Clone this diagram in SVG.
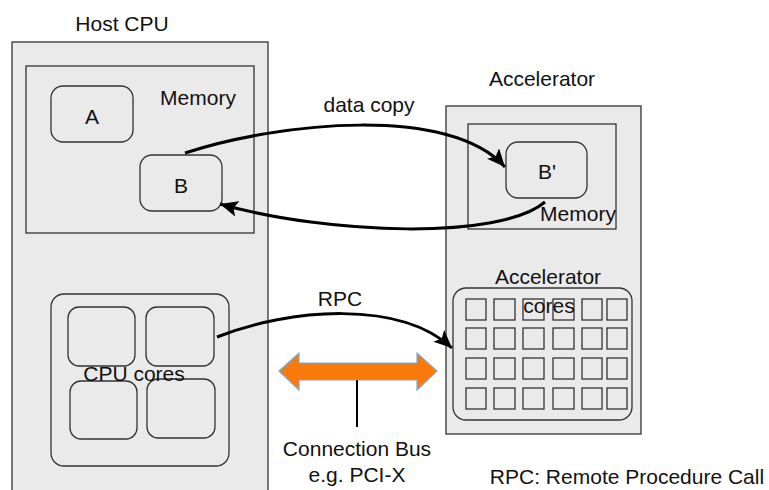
<svg xmlns="http://www.w3.org/2000/svg" width="769" height="490" viewBox="0 0 769 490">
<style>
text{font-family:"Liberation Sans",Arial,sans-serif;font-size:21px;fill:#111;}
.box{fill:#eaeaea;stroke:#333;stroke-width:1.3;}
.rbox{fill:#eaeaea;stroke:#333;stroke-width:1.3;}
.sq{fill:none;stroke:#333;stroke-width:1.3;}
.conn{fill:none;stroke:#000;stroke-width:3;}
</style>
<defs>
<marker id="ah" markerUnits="userSpaceOnUse" markerWidth="20" markerHeight="16" refX="18" refY="8" orient="auto">
<path d="M0,0 L18,8 L0,16 L4,8 Z" fill="#000"/>
</marker>
</defs>
<g id="host-cpu">
<rect class="box" x="12" y="42" width="256" height="460"/>
<text x="122" y="31" text-anchor="middle" font-size="20">Host CPU</text>
</g>
<g id="host-memory">
<rect class="box" x="26" y="66" width="228" height="167"/>
<text x="198" y="105" text-anchor="middle" font-size="21">Memory</text>
</g>
<g id="node-a">
<rect class="rbox" x="51" y="86" width="82" height="56" rx="12"/>
<text x="92" y="124" text-anchor="middle">A</text>
</g>
<g id="node-b">
<rect class="rbox" x="140" y="155" width="82" height="56" rx="12"/>
<text x="181" y="193" text-anchor="middle">B</text>
</g>
<g id="cpu-cores">
<rect class="rbox" x="51" y="294" width="178" height="172" rx="13"/>
<rect class="rbox" x="68" y="307" width="67" height="59" rx="11"/>
<rect class="rbox" x="146" y="307" width="68" height="59" rx="11"/>
<rect class="rbox" x="70" y="381" width="67" height="58" rx="11"/>
<rect class="rbox" x="147" y="379" width="68" height="59" rx="11"/>
<text x="134" y="381" text-anchor="middle" font-size="20">CPU cores</text>
</g>
<g id="accelerator">
<rect class="box" x="446" y="106" width="195" height="328"/>
<text x="542" y="86" text-anchor="middle" font-size="21">Accelerator</text>
</g>
<g id="acc-memory">
<rect class="box" x="468" y="124" width="148" height="105"/>
<text x="578" y="221" text-anchor="middle" font-size="17">Memory</text>
</g>
<g id="node-bprime">
<rect class="rbox" x="506" y="142" width="81" height="56" rx="12"/>
<text x="547" y="179" text-anchor="middle">B'</text>
</g>
<g id="acc-cores">
<rect class="rbox" x="453" y="288" width="179" height="132" rx="13"/>
<g class="grid">
<rect class="sq" x="466" y="299" width="20" height="21"/><rect class="sq" x="494" y="299" width="21" height="21"/><rect class="sq" x="523" y="299" width="21" height="21"/><rect class="sq" x="553" y="299" width="21" height="21"/><rect class="sq" x="582" y="299" width="20" height="21"/><rect class="sq" x="607" y="299" width="20" height="21"/>
<rect class="sq" x="466" y="328" width="20" height="21"/><rect class="sq" x="494" y="328" width="21" height="21"/><rect class="sq" x="523" y="328" width="21" height="21"/><rect class="sq" x="553" y="328" width="21" height="21"/><rect class="sq" x="582" y="328" width="20" height="21"/><rect class="sq" x="607" y="328" width="20" height="21"/>
<rect class="sq" x="466" y="358" width="20" height="21"/><rect class="sq" x="494" y="358" width="21" height="21"/><rect class="sq" x="523" y="358" width="21" height="21"/><rect class="sq" x="553" y="358" width="21" height="21"/><rect class="sq" x="582" y="358" width="20" height="21"/><rect class="sq" x="607" y="358" width="20" height="21"/>
<rect class="sq" x="466" y="388" width="20" height="21"/><rect class="sq" x="494" y="388" width="21" height="21"/><rect class="sq" x="523" y="388" width="21" height="21"/><rect class="sq" x="553" y="388" width="21" height="21"/><rect class="sq" x="582" y="388" width="20" height="21"/><rect class="sq" x="607" y="388" width="20" height="21"/>
</g>
<text x="548" y="284" text-anchor="middle" font-size="21">Accelerator</text>
<text x="549" y="313" text-anchor="middle" font-size="21">cores</text>
</g>
<g id="bus">
<polygon points="279,371 299,353 299,363 417,363 417,353 437,371 417,390 417,380 299,380 299,390" fill="#f97a0a" stroke="#7fa8d8" stroke-width="1.2"/>
<line x1="357" y1="380" x2="357" y2="427" stroke="#000" stroke-width="2"/>
<text x="357" y="456" text-anchor="middle">Connection Bus</text>
<text x="357" y="482" text-anchor="middle">e.g. PCI-X</text>
</g>
<g id="connectors">
<path class="conn" d="M185,153 C280,122 450,105 505,167" marker-end="url(#ah)"/>
<path class="conn" d="M545,202 C500,240 330,235 220,204" marker-end="url(#ah)"/>
<path class="conn" d="M217,337 C290,308 400,300 452,348" marker-end="url(#ah)"/>
<text x="369" y="112" text-anchor="middle">data copy</text>
<text x="340" y="306" text-anchor="middle">RPC</text>
</g>
<g id="legend">
<text x="627" y="484" text-anchor="middle">RPC: Remote Procedure Call</text>
</g>
</svg>
